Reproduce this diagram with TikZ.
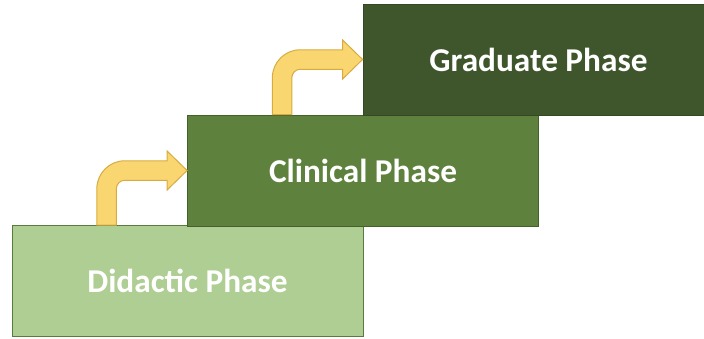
\documentclass[tikz,border=0pt]{standalone}
\usepackage{fontspec}
\setmainfont{Carlito}
\usetikzlibrary{calc}
\definecolor{didfill}{RGB}{174,206,147}
\definecolor{didline}{RGB}{88,122,60}
\definecolor{clifill}{RGB}{94,130,62}
\definecolor{cliline}{RGB}{66,98,42}
\definecolor{grafill}{RGB}{63,86,44}
\definecolor{graline}{RGB}{52,72,36}
\definecolor{arrfill}{RGB}{250,214,112}
\definecolor{arrline}{RGB}{214,172,66}
\begin{document}
\begin{tikzpicture}[x=1pt,y=-1pt,
  phase/.style={rectangle,line width=0.8pt,inner sep=0pt,minimum width=351pt,minimum height=111pt,
    text=white,font=\fontsize{33.3}{40}\selectfont\bfseries},
  bent/.style={fill=arrfill,draw=arrline,line width=1pt,line join=miter}]
\useasboundingbox (0,0) rectangle (704,338);
\node[phase,fill=didfill,draw=didline] (did) at (187.5,281) {Didactic Phase};
\node[phase,fill=clifill,draw=cliline] (cli) at (363,170.5) {Clinical Phase};
\node[phase,fill=grafill,draw=graline] (gra) at (538.5,59.5) {Graduate Phase};
% bent arrows: shaft up from the lower box, head into the next one
\filldraw[bent] let \p1=($(did.north west)+(95,0)$), \p2=(cli.west) in
  (\x1-9.75pt,\y1) -- (\x1-9.75pt,\y2+9.75pt-28pt) arc[start angle=180,end angle=90,radius=28pt]
  -- (\x2-20pt,\y2+9.75pt) -- (\x2-20pt,\y2+19.5pt) -- (\x2,\y2) -- (\x2-20pt,\y2-19.5pt)
  -- (\x2-20pt,\y2-9.75pt) -- (\x1+18.25pt,\y2-9.75pt) arc[start angle=90,end angle=180,radius=8.5pt]
  -- (\x1+9.75pt,\y1) -- cycle;
\filldraw[bent] let \p1=($(cli.north west)+(95,0)$), \p2=(gra.west) in
  (\x1-9.75pt,\y1) -- (\x1-9.75pt,\y2+9.75pt-28pt) arc[start angle=180,end angle=90,radius=28pt]
  -- (\x2-20pt,\y2+9.75pt) -- (\x2-20pt,\y2+19.5pt) -- (\x2,\y2) -- (\x2-20pt,\y2-19.5pt)
  -- (\x2-20pt,\y2-9.75pt) -- (\x1+18.25pt,\y2-9.75pt) arc[start angle=90,end angle=180,radius=8.5pt]
  -- (\x1+9.75pt,\y1) -- cycle;
\end{tikzpicture}
\end{document}
